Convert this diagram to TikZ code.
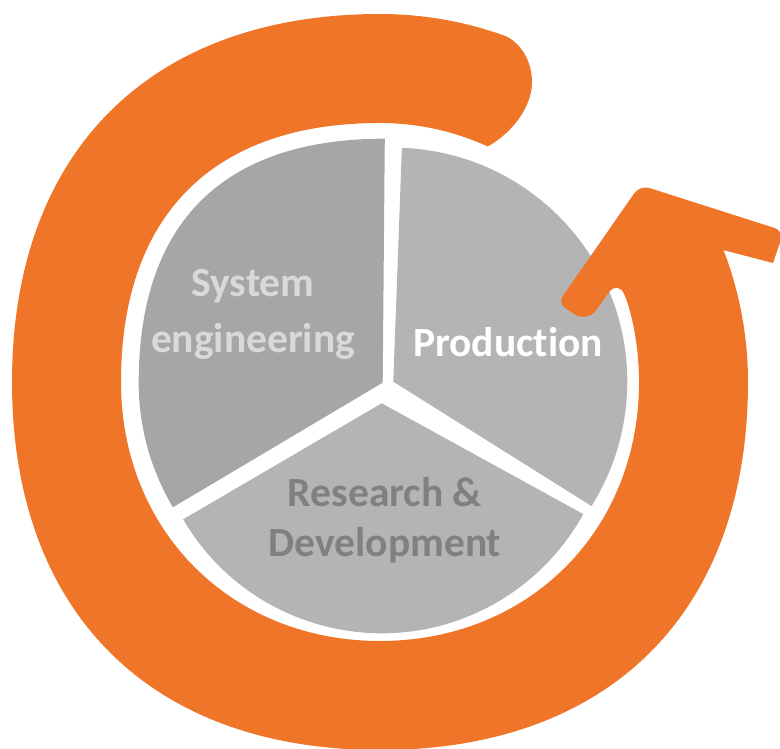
\documentclass[tikz,border=0pt]{standalone}
\usepackage{fontspec}
\setmainfont{Carlito}[Ligatures={NoCommon}]
\definecolor{arroworange}{HTML}{EF7529}
\definecolor{sectordark}{HTML}{A6A6A6}
\definecolor{sectorlight}{HTML}{B4B4B4}
\definecolor{textlight}{HTML}{D9D9D9}
\definecolor{textdark}{HTML}{808080}
\begin{document}
\begin{tikzpicture}[x=1pt,y=1pt,
  labeltext/.style={font=\bfseries\fontsize{41.5}{56}\selectfont, align=center, inner sep=0pt, anchor=base},
  sectorfill/.style={fill=#1, draw=none}]
\useasboundingbox (0,0) rectangle (780,749);
\clip (0,0) rectangle (780,749);
% pie sectors
\path[sectorfill=sectordark] (382.7,366.3) -- (384.8,610.3)
  .. controls (223.8,610.3) and (138.7,527.3) .. (138.7,366.3)
  arc[start angle=180,end angle=210.7,radius=244pt] -- cycle;
\path[sectorfill=sectorlight] (393.3,367.3) -- ++(87.9:234pt) arc[start angle=87.9,end angle=-32.1,radius=234pt] -- cycle;
\path[sectorfill=sectorlight] (381.7,345.7) -- ++(210.3:230pt) arc[start angle=210.3,end angle=331.2,radius=230pt] -- cycle;
% orange circular arrow
\fill[arroworange] (487.8,602.5)
  .. controls (515,618) and (533,645) .. (532,669)
  .. controls (531,690) and (520,706) .. (505.9,712.8)
  arc[start angle=70,end angle=90,radius=368pt]
  .. controls (150,735) and (12,597) .. (12,367)
  .. controls (12,137) and (150,-1) .. (380,-1)
  .. controls (610,-1) and (748,137) .. (748,367)
  arc[start angle=0,end angle=21,radius=368pt]
  -- (773,486)
  [rounded corners=10pt] -- (784,518)
  -- (640,564)
  [rounded corners=8pt] -- (558,446)
  [rounded corners=16pt] -- (587,426)
  -- (617.9,469.4)
  [sharp corners] arc[start angle=23.3,end angle=0,radius=259pt]
  .. controls (639,218.3) and (528.7,108) .. (380,108)
  .. controls (231.3,108) and (121,218.3) .. (121,367)
  .. controls (121,534) and (213,626) .. (380,626)
  arc[start angle=90,end angle=65.4,radius=259pt]
  -- cycle;
% labels
\node[labeltext, text=textlight] (syseng) at (253,396) {System\\engineering};
\node[labeltext, text=white] (prod) at (508,392.3) {Production};
\node[labeltext, text=textdark, font=\bfseries\fontsize{41.5}{50}\selectfont] (rnd) at (385,192.3) {Research \&\\Development};
\end{tikzpicture}
\end{document}
